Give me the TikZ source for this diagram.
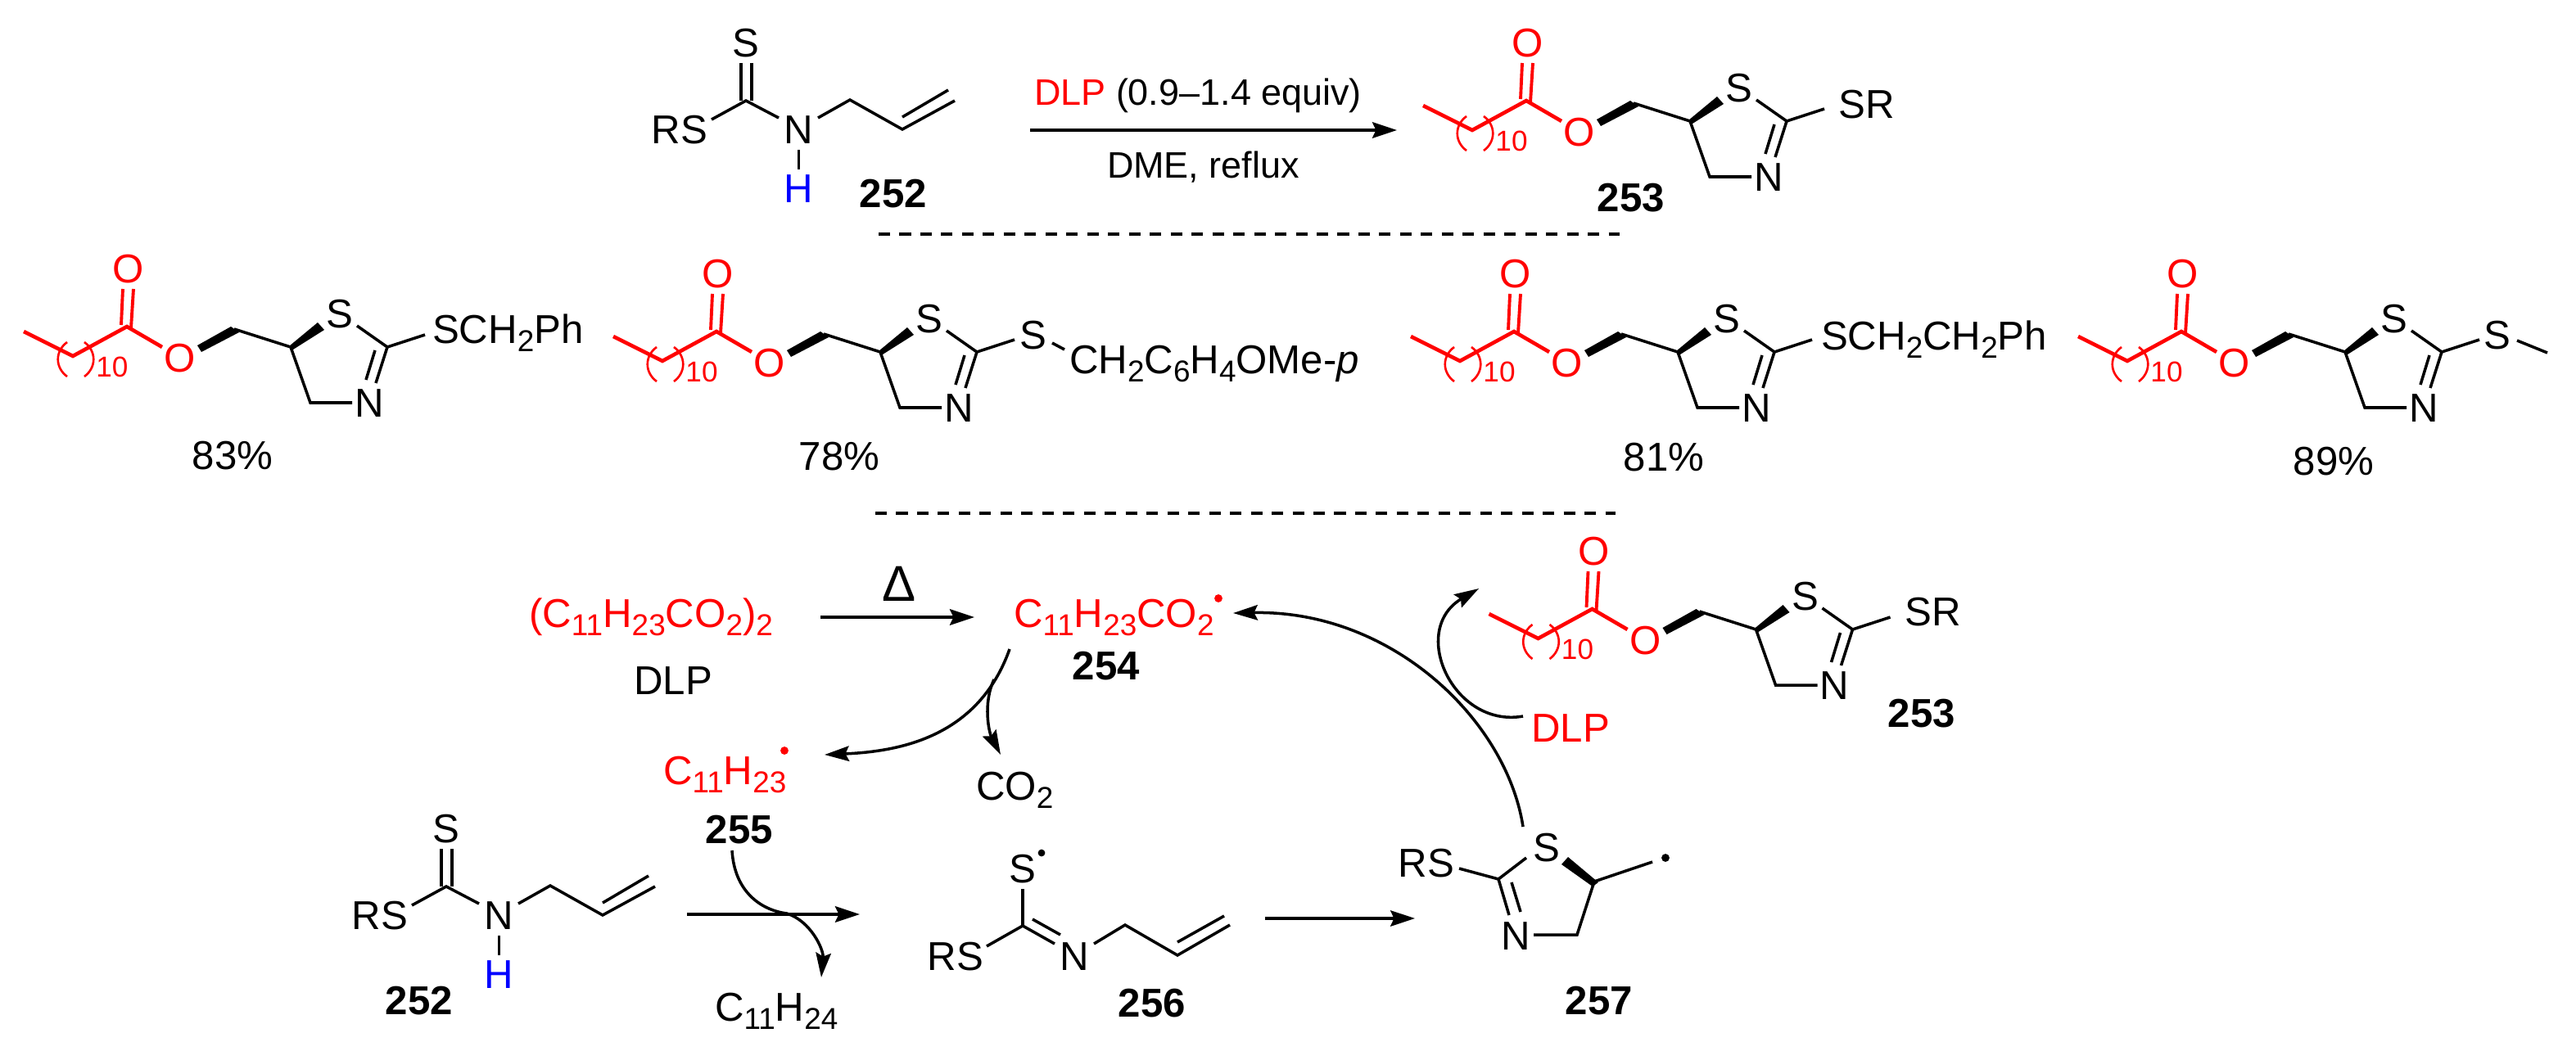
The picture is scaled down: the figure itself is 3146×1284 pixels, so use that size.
\documentclass[tikz,border=0pt]{standalone}
\usepackage{fontspec}
\setmainfont{Liberation Sans}
\usetikzlibrary{arrows.meta}
\newcommand\mainsz{\fontsize{28}{32}\selectfont}
\newcommand\condsz{\fontsize{25.6}{30}\selectfont}
\newcommand\sbs[1]{\raisebox{-6.2pt}{\fontsize{21}{24}\selectfont #1}}
\definecolor{chemred}{RGB}{255,0,0}
\definecolor{chemblue}{RGB}{0,0,255}
\tikzset{
  txt/.style={inner sep=0pt,outer sep=0pt,font=\mainsz},
  lab/.style={txt,font=\mainsz\bfseries},
  bond/.style={line width=2pt,line join=miter},
  redbond/.style={line width=2.6pt,color=chemred,line join=miter},
  paren/.style={line width=1.5pt,color=chemred},
  rxn/.style={line width=2.5pt,-{Stealth[length=17pt,width=11pt,inset=2.5pt]}},
  rxnthin/.style={line width=2pt,-{Stealth[length=17pt,width=11pt,inset=2.5pt]}},
  curly/.style={line width=2pt,-{Stealth[length=17pt,width=10.5pt,inset=2.5pt]}},
  sep/.style={line width=2pt,dash pattern=on 8pt off 6.5pt},
  dotmark/.style={circle,inner sep=0pt,minimum size=5.6pt,fill=#1},
  ester/.pic={
    \node[txt,text=chemred] (-Ot) at (2,-70) {O};
    \node[txt,text=chemred] (-Oe) at (65,39) {O};
    \node[txt,text=chemred,font=\fontsize{20}{24}\selectfont] (-n) at (-18,49) {10};
    \coordinate (-C) at (0,0);
    \coordinate (-Me) at (-126,6);
    \coordinate (-V) at (-66,36);
    \coordinate (-d1a) at (-5,-46);
    \coordinate (-d1b) at (-7,-2);
    \coordinate (-d2a) at (8,-46);
    \coordinate (-d2b) at (5,2);
    \coordinate (-Oend) at (43,25);
    \draw[redbond] (-Me) -- (-V) -- (-C) -- (-Oend);
    \draw[redbond,line width=2.2pt] (-d1a) -- (-d1b) (-d2a) -- (-d2b);
    \draw[paren] (-73,19) .. controls (-88,30) and (-88,50) .. (-73,61);
    \draw[paren] (-52,19) .. controls (-37,30) and (-37,50) .. (-52,61);
    \fill (86,23) -- (127,0) -- (137,7) -- (91,31) -- cycle;
    \coordinate (-CH) at (131,3);
    \coordinate (-C5) at (200,25);
    \coordinate (-C4) at (224,93);
    \coordinate (-C2) at (318,25);
    \node[txt] (-S) at (260,-15) {S};
    \node[txt] (-N) at (296,94) {N};
    \fill (198,24) -- (233,-5) -- (241,4) -- (203,28) -- cycle;
    \draw[bond] (-CH) -- (-C5) -- (-C4) -- (275,93);
    \draw[bond] (281,-1) -- (-C2) -- (304,69);
    \draw[bond] (303,29) -- (292,65);
    \draw[bond] (-C2) -- (364,10);
  },
  allyl/.pic={
    \coordinate (-C) at (0,0);
    \node[txt] (-S) at (0,-70) {S};
    \node[txt] (-RS) at (-81,36) {RS};
    \node[txt] (-N) at (64,36) {N};
    \node[txt,text=chemblue] (-H) at (64,108) {H};
    \draw[bond] (-6,-46) -- (-6,0) (7,-46) -- (7,0);
    \draw[bond] (-42,23) -- (-C) -- (40,21);
    \draw[bond] (88,21) -- (127,-1) -- (191,35) -- (255,0);
    \draw[bond] (191,20) -- (247,-13);
    \draw[bond,line width=1.7pt] (64,60) -- (64,84);
  }
}
\begin{document}
\begin{tikzpicture}[x=0.02cm,y=-0.02cm]
\useasboundingbox (0,0) rectangle (3146,1284);
\fill[white] (0,0) rectangle (3146,1284);

% top equation
\pic (top252) at (911,123) {allyl};
\node[lab] (l252a) at (1091,237) {252};
\node[txt,font=\condsz,anchor=base west] (cond1) at (1263,129) {\textcolor{chemred}{DLP} (0.9--1.4 equiv)};
\node[txt,font=\condsz,anchor=base west] (cond2) at (1352,217) {DME, reflux};
\coordinate (a1s) at (1258,159);
\coordinate (a1e) at (1706,159);
\draw[rxn] (a1s) -- (a1e);
\pic (top253) at (1864,123) {ester};
\node[txt] (topSR) at (2280,128) {SR};
\node[lab] (l253a) at (1992,242) {253};

\coordinate (d1s) at (1073,286);
\coordinate (d1e) at (1978,286);
\draw[sep] (d1s) -- (d1e);

% product row
\pic (pa) at (155,399) {ester};
\node[txt,anchor=base west] (subA) at (528,419) {SCH\sbs{2}Ph};
\node[txt] (y83) at (284,557) {83\%};

\pic (pb) at (875,405) {ester};
\node[txt] (pbS) at (1262,410) {S};
\node[txt,anchor=base west] (subB) at (1306,456) {CH\sbs{2}C\sbs{6}H\sbs{4}OMe-\textit{p}};
\coordinate (pbS1) at (1285,419);
\coordinate (pbS2) at (1300,427);
\draw[bond] (pbS1) -- (pbS2);
\node[txt] (y78) at (1025,558) {78\%};

\pic (pc) at (1849,405) {ester};
\node[txt,anchor=base west] (subC) at (2224,427) {SCH\sbs{2}CH\sbs{2}Ph};
\node[txt] (y81) at (2032,559) {81\%};

\pic (pd) at (2664,405) {ester};
\node[txt] (pdS) at (3050,410) {S};
\coordinate (pdS1) at (3074,416);
\coordinate (pdS2) at (3111,431);
\draw[bond] (pdS1) -- (pdS2);
\node[txt] (y89) at (2850,564) {89\%};

\coordinate (d2s) at (1069,627);
\coordinate (d2e) at (1973,627);
\draw[sep] (d2s) -- (d2e);

% mechanism, first row
\node[txt,anchor=base west,text=chemred] (dlpf) at (646,766) {(C\sbs{11}H\sbs{23}CO\sbs{2})\sbs{2}};
\node[txt] (dlpn) at (822,832) {DLP};
\coordinate (a2s) at (1002,754);
\coordinate (a2e) at (1190,754);
\draw[rxn] (a2s) -- (a2e);
\node[txt,font=\fontsize{35}{40}\selectfont] (heat) at (1098,713) {Δ};
\node[txt,anchor=base west,text=chemred] (r254) at (1238,766) {C\sbs{11}H\sbs{23}CO\sbs{2}};
\node[dotmark=chemred] (r254dot) at (1488,731) {};
\node[lab] (l254) at (1351,814) {254};

\node[txt,anchor=base west,text=chemred] (r255) at (810,958) {C\sbs{11}H\sbs{23}};
\node[dotmark=chemred] (r255dot) at (958,917) {};
\node[lab] (l255) at (903,1014) {255};
\node[txt,anchor=base west] (co2) at (1192,977) {CO\sbs{2}};

\coordinate (c1s) at (1233,793);
\coordinate (c1e) at (1007,922);
\draw[curly] (c1s) .. controls (1195,900) and (1100,918) .. (c1e);
\coordinate (c2s) at (1214,830);
\coordinate (c2e) at (1222,922);
\draw[curly] (c2s) .. controls (1200,860) and (1208,895) .. (c2e);

% 253 in the cycle
\pic (cy253) at (1944.5,744) {ester};
\node[txt] (cySR) at (2361,748) {SR};
\node[lab] (l253b) at (2347,872) {253};
\node[txt,text=chemred] (dlpr) at (1918,890) {DLP};
\coordinate (c3s) at (1860,875);
\coordinate (c3e) at (1806,719);
\draw[curly] (c3s) .. controls (1775,890) and (1720,770) .. (c3e);
\coordinate (c4s) at (1860,1010);
\coordinate (c4e) at (1506,749);
\draw[curly] (c4s) .. controls (1840,880) and (1700,745) .. (c4e);

% mechanism, bottom row
\pic (low252) at (545,1083) {allyl};
\node[lab] (l252b) at (512,1223) {252};
\coordinate (a3s) at (839,1117);
\coordinate (a3e) at (1050,1117);
\draw[rxn] (a3s) -- (a3e);
\coordinate (c5s) at (894,1039);
\coordinate (c5m) at (961,1116);
\coordinate (c5e) at (1003,1194);
\draw[curly] (c5s) .. controls (897,1090) and (930,1112) .. (c5m) .. controls (990,1125) and (1006,1160) .. (c5e);
\node[txt,anchor=base west] (c11h24) at (873,1247) {C\sbs{11}H\sbs{24}};

% 256
\coordinate (n6C) at (1249,1131);
\node[txt] (n6S) at (1249,1062) {S};
\node[dotmark=black,minimum size=5pt] (n6dot) at (1272,1042) {};
\node[txt] (n6RS) at (1167,1169) {RS};
\node[txt] (n6N) at (1312,1169) {N};
\draw[bond] (1249,1086) -- (n6C);
\draw[bond] (1205,1156) -- (n6C) -- (1288,1153);
\draw[bond] (1261,1123) -- (1295,1142);
\draw[bond] (1336,1153) -- (1374,1130) -- (1438,1167) -- (1502,1130);
\draw[bond] (1438,1151) -- (1495,1119);
\node[lab] (l256) at (1407,1226) {256};
\coordinate (a4s) at (1545,1122);
\coordinate (a4e) at (1728,1122);
\draw[rxnthin] (a4s) -- (a4e);

% 257
\coordinate (n7C2) at (1830,1074);
\coordinate (n7C4) at (1926,1142);
\coordinate (n7C5) at (1947,1077);
\node[txt] (n7S) at (1889,1036) {S};
\node[txt] (n7RS) at (1742,1055) {RS};
\node[txt] (n7N) at (1851,1144) {N};
\node[dotmark=black] (n7dot) at (2034,1048) {};
\draw[bond] (1782,1061) -- (n7C2) -- (1864,1048);
\draw[bond] (n7C2) -- (1843,1118);
\draw[bond] (1846,1078) -- (1857,1114);
\draw[bond] (1873,1142) -- (n7C4) -- (n7C5) -- (2018,1053);
\fill (1907,1056) -- (1915,1047) -- (1952,1078) -- (1945,1083) -- cycle;
\node[lab] (l257) at (1953,1223) {257};
\end{tikzpicture}
\end{document}
